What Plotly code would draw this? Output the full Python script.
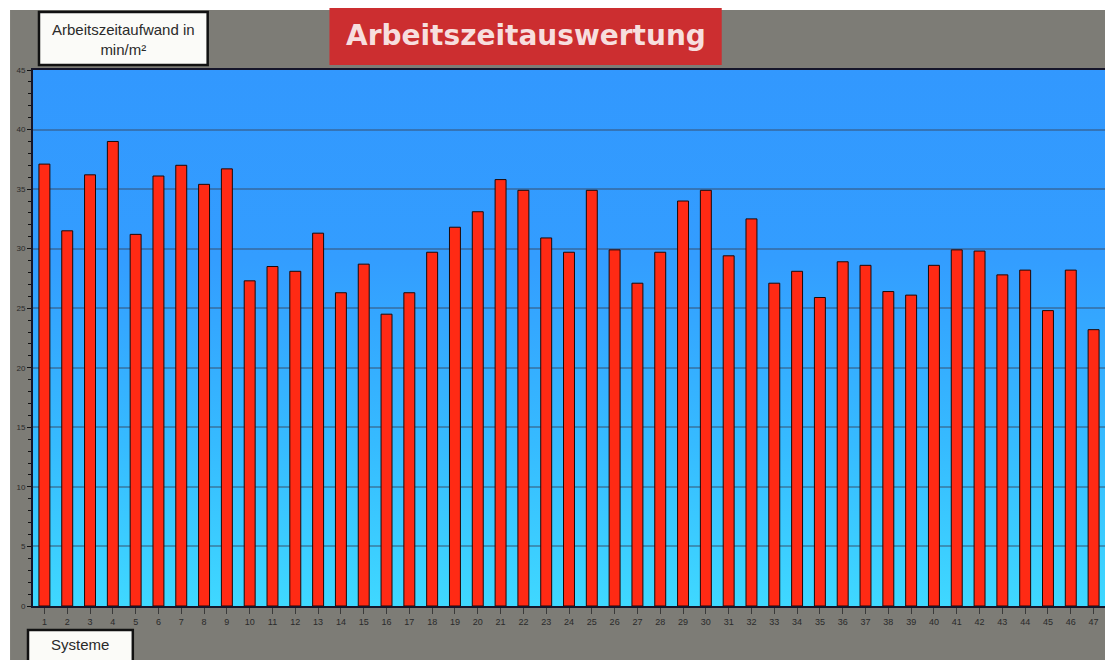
import base64
import plotly.graph_objects as go

# ---- data ----
systems = [str(i) for i in range(1, 48)]
values = [37.1, 31.5, 36.2, 39.0, 31.2, 36.1, 37.0, 35.4, 36.7, 27.3,
          28.5, 28.1, 31.3, 26.3, 28.7, 24.5, 26.3, 29.7, 31.8, 33.1,
          35.8, 34.9, 30.9, 29.7, 34.9, 29.9, 27.1, 29.7, 34.0, 34.9,
          29.4, 32.5, 27.1, 28.1, 25.9, 28.9, 28.6, 26.4, 26.1, 28.6,
          29.9, 29.8, 27.8, 28.2, 24.8, 28.2, 23.2]
y_ticks = [0, 5, 10, 15, 20, 25, 30, 35, 40, 45]
title_text = "Arbeitszeitauswertung"
ylabel_text = "Arbeitszeitaufwand in<br>min/m²"
xlabel_text = "Systeme"

# page has an 8px body margin; figure is placed at (8, 8)
OFF = 8
W, H = 1105, 652
L, R, T, B = 25, 6, 62, 54
PW, PH = W - L - R, H - T - B


def px(x):  # page pixel x -> paper
    return (x - OFF - L) / PW


def py(y):  # page pixel y -> paper
    return (OFF + H - B - y) / PH


svg = ("<svg xmlns='http://www.w3.org/2000/svg' width='100' height='100' "
       "viewBox='0 0 100 100' preserveAspectRatio='none'><defs>"
       "<linearGradient id='g' x1='0' y1='0' x2='0' y2='1'>"
       "<stop offset='0' stop-color='#3298fe'/>"
       "<stop offset='0.35' stop-color='#339dff'/>"
       "<stop offset='0.7' stop-color='#36bbff'/>"
       "<stop offset='1' stop-color='#3fd8ff'/>"
       "</linearGradient></defs>"
       "<rect width='100' height='100' fill='url(#g)'/></svg>")
grad_uri = "data:image/svg+xml;base64," + base64.b64encode(svg.encode()).decode()

fig = go.Figure()
fig.add_trace(go.Bar(
    x=systems, y=values, width=0.48,
    marker=dict(color="#ff2a14", line=dict(color="#1a0a0a", width=1)),
    hoverinfo="x+y",
))

fig.update_layout(
    width=W, height=H,
    margin=dict(l=L, r=R, t=T, b=B),
    paper_bgcolor="#7d7c76",
    plot_bgcolor="#36aaff",
    showlegend=False,
    images=[dict(source=grad_uri, xref="paper", yref="paper", x=0, y=1,
                 sizex=1, sizey=1, sizing="stretch", layer="below",
                 xanchor="left", yanchor="top")],
    xaxis=dict(
        type="category", range=[-0.5, 46.5],
        showgrid=False, showline=True, linecolor="#15152a", linewidth=2,
        mirror=True, ticks="outside", ticklen=6, tickcolor="#3a3a3a",
        tickfont=dict(family="Liberation Sans, Arial", size=9, color="#2a2a2a"),
        fixedrange=True,
    ),
    yaxis=dict(
        range=[0, 45], tickvals=y_ticks,
        showgrid=True, gridcolor="rgba(55,70,95,0.45)", gridwidth=1.5,
        showline=True, linecolor="#15152a", linewidth=2, mirror=True,
        ticks="outside", ticklen=4, tickcolor="#111",
        minor=dict(dtick=1, ticks="outside", ticklen=3, tickcolor="#111",
                   showgrid=False),
        tickfont=dict(family="Liberation Sans, Arial", size=8, color="#2a2a2a"),
        zeroline=False, fixedrange=True,
    ),
)

shapes = [
    # white page strips around the grey panel
    dict(type="rect", xref="paper", yref="paper", x0=px(0), x1=px(1120),
         y0=py(10), y1=py(0), fillcolor="white", line_width=0, layer="below"),
    dict(type="rect", xref="paper", yref="paper", x0=px(0), x1=px(10),
         y0=py(670), y1=py(0), fillcolor="white", line_width=0, layer="below"),
    dict(type="rect", xref="paper", yref="paper", x0=px(1108), x1=px(1120),
         y0=py(670), y1=py(0), fillcolor="white", line_width=0, layer="below"),
    # title red box
    dict(type="rect", xref="paper", yref="paper", x0=px(330), x1=px(723),
         y0=py(65), y1=py(3), fillcolor="#cc2e30", line_width=0, layer="above"),
    # y label box
    dict(type="rect", xref="paper", yref="paper", x0=px(39), x1=px(208),
         y0=py(65), y1=py(12), fillcolor="#fbfbf8",
         line=dict(color="#111", width=2.5), layer="above"),
    # x label box
    dict(type="rect", xref="paper", yref="paper", x0=px(28), x1=px(133),
         y0=py(662), y1=py(630), fillcolor="#fbfbf8",
         line=dict(color="#111", width=2.5), layer="above"),
]
fig.update_layout(shapes=shapes)

fig.add_annotation(
    text=title_text, xref="paper", yref="paper",
    x=px(527), y=py(36), xanchor="center", yanchor="middle", showarrow=False,
    font=dict(family="DejaVu Sans", size=28, color="#f7dede", weight="bold"),
)
fig.add_annotation(
    text=ylabel_text, xref="paper", yref="paper",
    x=px(124), y=py(39), xanchor="center", yanchor="middle", showarrow=False,
    align="center",
    font=dict(family="Liberation Sans, Arial", size=15, color="#2a2a2a"),
)
fig.add_annotation(
    text=xlabel_text, xref="paper", yref="paper",
    x=px(80), y=py(644), xanchor="center", yanchor="middle", showarrow=False,
    font=dict(family="Liberation Sans, Arial", size=15, color="#2a2a2a"),
)

fig.write_html("out.html")
